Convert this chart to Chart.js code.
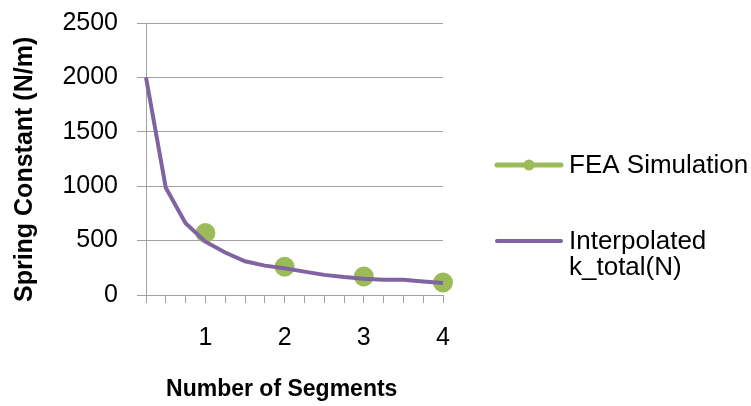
<!DOCTYPE html>
<html>
<head>
<meta charset="utf-8">
<script src="https://cdn.jsdelivr.net/npm/chart.js@4.4.1/dist/chart.umd.min.js"></script>
<style>
  html, body { margin: 0; padding: 0; background: #fff; }
  #wrap { width: 751px; height: 406px; }
</style>
</head>
<body>
<div id="wrap"><canvas id="springChart" width="751" height="406"></canvas></div>
<script type="text/javascript">
  // number of segments (x positions of the interpolated curve)
  var segments = [0.25, 0.5, 0.75, 1, 1.25, 1.5, 1.75, 2, 2.25, 2.5, 2.75, 3, 3.25, 3.5, 3.75, 4];
  var kInterpolated = [2000, 985, 660, 490, 390, 310, 270, 245, 215, 185, 165, 150, 140, 140, 125, 110];

  // FEA simulation points
  var feaSegments = [1, 2, 3, 4];
  var feaValues = [570, 260, 170, 115];

  var green = '#9bbb59';
  var purple = '#8064a2';
  var gridGray = '#a0a0a0';
  var fontFamily = '"Liberation Sans", Arial, sans-serif';

  function toPoints(xs, ys) {
    return xs.map(function (x, i) { return { x: x, y: ys[i] }; });
  }

  // legend drawn by hand so the second label can wrap on two lines
  var sideLegend = {
    id: 'sideLegend',
    afterDraw: function (chart) {
      var ctx = chart.ctx;
      var x0 = chart.chartArea.right + 54;
      ctx.save();
      ctx.lineCap = 'round';
      ctx.font = '26px ' + fontFamily;
      ctx.textBaseline = 'middle';

      ctx.strokeStyle = green;
      ctx.lineWidth = 5;
      ctx.beginPath();
      ctx.moveTo(x0, 165);
      ctx.lineTo(x0 + 64, 165);
      ctx.stroke();
      ctx.fillStyle = green;
      ctx.beginPath();
      ctx.arc(x0 + 32, 165, 5.5, 0, Math.PI * 2);
      ctx.fill();
      ctx.fillStyle = '#000';
      ctx.fillText('FEA Simulation', x0 + 72, 166);

      ctx.strokeStyle = purple;
      ctx.lineWidth = 4;
      ctx.beginPath();
      ctx.moveTo(x0, 241);
      ctx.lineTo(x0 + 64, 241);
      ctx.stroke();
      ctx.fillText('Interpolated', x0 + 72, 242);
      ctx.fillText('k_total(N)', x0 + 72, 268);
      ctx.restore();
    }
  };

  var chart = new Chart('springChart', {
    type: 'line',
    data: {
      datasets: [
        {
          label: 'Interpolated k_total(N)',
          data: toPoints(segments, kInterpolated),
          borderColor: purple,
          borderWidth: 4,
          pointRadius: 0,
          tension: 0,
          fill: false,
          clip: false,
          order: 0
        },
        {
          label: 'FEA Simulation',
          data: toPoints(feaSegments, feaValues),
          showLine: false,
          backgroundColor: green,
          borderColor: green,
          pointRadius: 10,
          pointBorderWidth: 0,
          clip: false,
          order: 1
        }
      ]
    },
    options: {
      responsive: false,
      animation: false,
      layout: {
        padding: { left: 0, right: 308, top: 23, bottom: 0 }
      },
      plugins: {
        legend: { display: false },
        tooltip: { enabled: false }
      },
      scales: {
        x: {
          type: 'linear',
          min: 0.25,
          max: 4,
          afterFit: function (scale) { scale.height = 111; },
          grid: {
            drawOnChartArea: false,
            drawTicks: true,
            tickLength: 8,
            color: gridGray
          },
          border: { color: gridGray },
          ticks: {
            stepSize: 0.25,
            autoSkip: false,
            maxRotation: 0,
            padding: 20,
            color: '#000',
            font: { family: fontFamily, size: 25 },
            callback: function (value) {
              return value % 1 === 0 ? String(value) : '';
            }
          },
          title: {
            display: true,
            // trailing spaces nudge the centred title a little to the left
            text: 'Number of Segments    ',
            color: '#000',
            font: { family: fontFamily, size: 23, weight: 'bold' },
            padding: { top: 22, bottom: 3 }
          }
        },
        y: {
          min: 0,
          max: 2500,
          afterFit: function (scale) { scale.width = 146; },
          grid: {
            color: gridGray,
            tickLength: 9
          },
          border: { color: gridGray },
          ticks: {
            stepSize: 500,
            padding: 19,
            color: '#000',
            // small line height keeps the top label from pushing the plot down
            font: { family: fontFamily, size: 25, lineHeight: 0.32 },
            callback: function (value) { return String(value); }
          },
          title: {
            display: true,
            text: 'Spring Constant (N/m)   ',
            color: '#000',
            font: { family: fontFamily, size: 25, weight: 'bold' },
            padding: { top: 10, bottom: 20 }
          }
        }
      }
    },
    plugins: [sideLegend]
  });
</script>
</body>
</html>
